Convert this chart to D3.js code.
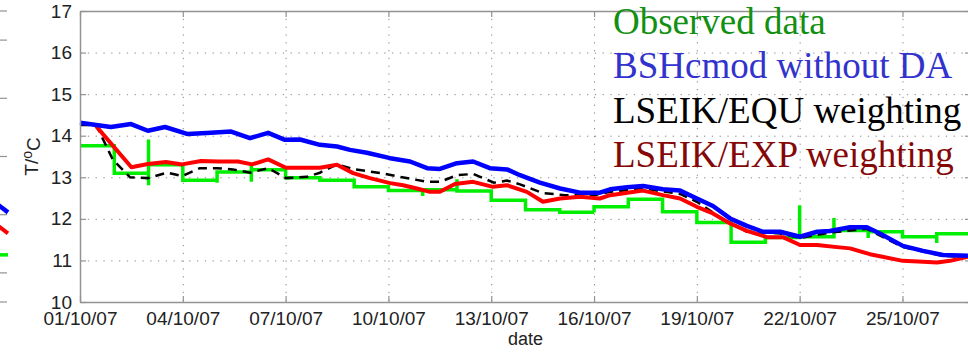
<!DOCTYPE html>
<html>
<head>
<meta charset="utf-8">
<script src="https://cdn.jsdelivr.net/npm/d3@7"></script>
<style>
  body { margin: 0; background: #fff; }
  svg { display: block; }
</style>
</head>
<body>
<svg id="chart" width="968" height="352"></svg>
<script>
// all series: [day of October 2007 (fractional), temperature in degC]
const observedDaily = [
  13.76, 13.10, 13.30, 12.93, 13.13, 13.18, 12.99, 12.93, 12.77, 12.68,
  12.70, 12.67, 12.45, 12.22, 12.16, 12.29, 12.47, 12.17, 11.91, 11.44,
  11.55, 11.57, 11.72, 11.69, 11.57, 11.64,
]; // value held from day i+1 to i+2
const observedSpikes = [
  [3, 13.91], [3, 12.81], [5, 12.87], [6, 13.34], [6, 12.89], [11, 12.55],
  [12, 12.95], [16, 12.15], [22, 12.33], [23, 12.02], [24, 11.54], [26, 11.42],
];
const bshcmod = [
  [1.00, 14.31], [1.90, 14.21], [2.49, 14.28], [2.98, 14.12], [3.48, 14.21],
  [4.15, 14.04], [4.82, 14.07], [5.41, 14.10], [5.96, 13.94], [6.49, 14.07],
  [6.98, 13.90], [7.42, 13.91], [8.00, 13.78], [8.50, 13.74], [8.88, 13.66],
  [9.37, 13.59], [10.05, 13.46], [10.63, 13.38], [11.13, 13.22], [11.50, 13.20],
  [12.00, 13.34], [12.47, 13.38], [12.96, 13.22], [13.46, 13.19], [13.84, 13.05],
  [14.42, 12.87], [15.01, 12.73], [15.59, 12.63], [16.17, 12.63], [16.47, 12.71],
  [16.96, 12.76], [17.43, 12.79], [18.01, 12.71], [18.51, 12.68], [19.00, 12.49],
  [19.47, 12.31], [19.97, 12.01], [20.46, 11.83], [20.93, 11.69], [21.43, 11.69],
  [22.01, 11.57], [22.51, 11.69], [22.88, 11.71], [23.47, 11.80], [23.96, 11.80],
  [24.34, 11.65], [25.01, 11.35], [25.60, 11.23], [26.18, 11.13], [26.91, 11.11],
];
const lseikEqu = [
  [1.00, 14.26], [1.47, 14.26], [1.96, 13.42], [2.46, 13.00], [2.98, 12.98],
  [3.54, 13.11], [3.98, 13.03], [4.50, 13.22], [5.00, 13.22], [5.46, 13.19],
  [5.96, 13.11], [6.49, 13.22], [7.01, 12.98], [7.62, 13.01], [8.00, 13.11],
  [8.50, 13.31], [9.02, 13.19], [9.78, 13.10], [10.40, 13.00], [11.15, 12.89],
  [11.50, 12.89], [12.00, 13.05], [12.47, 13.08], [13.08, 12.87], [13.46, 12.92],
  [13.84, 12.83], [14.51, 12.62], [15.15, 12.57], [15.97, 12.56], [16.47, 12.65],
  [17.43, 12.73], [18.51, 12.60], [19.00, 12.41], [19.76, 11.99], [20.46, 11.69],
  [21.43, 11.65], [22.01, 11.54], [22.88, 11.67], [23.96, 11.76], [25.01, 11.32],
  [26.18, 11.11], [26.91, 11.08],
];
const lseikExp = [
  [1.47, 14.23], [2.50, 13.24], [2.98, 13.32], [3.51, 13.37], [3.98, 13.31],
  [4.53, 13.39], [5.03, 13.38], [5.61, 13.38], [6.02, 13.31], [6.49, 13.43],
  [7.01, 13.23], [8.00, 13.23], [8.50, 13.30], [8.97, 13.10], [9.46, 12.98],
  [10.05, 12.86], [10.43, 12.81], [10.83, 12.73], [11.21, 12.65], [11.50, 12.65],
  [11.94, 12.84], [12.47, 12.89], [13.05, 12.77], [13.46, 12.81], [14.04, 12.65],
  [14.51, 12.41], [15.01, 12.49], [15.59, 12.53], [16.17, 12.49], [16.47, 12.57],
  [17.43, 12.68], [18.01, 12.57], [18.51, 12.49], [19.00, 12.29], [19.47, 12.13],
  [19.97, 11.89], [20.46, 11.71], [21.05, 11.56], [21.51, 11.56], [22.01, 11.37],
  [22.51, 11.37], [23.09, 11.32], [23.47, 11.29], [24.05, 11.15], [25.01, 10.99],
  [25.60, 10.97], [26.01, 10.95], [26.39, 10.99], [26.91, 11.09],
];
const yTicks = [10, 11, 12, 13, 14, 15, 16, 17];
const xTickDays = [1, 4, 7, 10, 13, 16, 19, 22, 25];
const legendLabels = [
  "Observed data", "BSHcmod without DA", "LSEIK/EQU weighting", "LSEIK/EXP weighting",
];

// the panel to the left, only its right edge is in the picture
const leftPanelTicks = [10, 11, 12, 13, 14];
const leftPanelBlue = [[26.6, 11.22], [27, 11.04]];
const leftPanelRed = [[26.6, 10.86], [27, 10.68]];
const leftPanelGreen = [[26.6, 10.31], [27, 10.31]];

const toDate = day => new Date(Date.UTC(2007, 9, 1) + (day - 1) * 864e5);

const svg = d3.select("#chart");
const margin = { top: 11, left: 80, bottom: 50, right: -3 };
const width = 968;
const height = 352;

const x = d3
  .scaleUtc()
  .domain([toDate(1), toDate(27)])
  .range([margin.left, width - margin.right]);
const y = d3
  .scaleLinear()
  .domain([10, 17])
  .range([height - margin.bottom, margin.top]);

const axisColor = "#939393";
const labelColor = "#222";
const tickFont = "'Liberation Sans', Arial, sans-serif";

// neighbour panel fragment
const xLeft = x.copy().range([8 - (x.range()[1] - x.range()[0]), 8]);
const yLeft = y.copy().domain([9.5, 14.5]);
const leftG = svg.append("g");
leftG
  .selectAll("line")
  .data(leftPanelTicks.concat(yLeft.domain()))
  .enter()
  .append("line")
  .attr("x1", 0)
  .attr("x2", 7)
  .attr("y1", d => yLeft(d))
  .attr("y2", d => yLeft(d))
  .attr("stroke", axisColor)
  .attr("stroke-width", 1.2);
const leftLine = d3.line().x(d => xLeft(toDate(d[0]))).y(d => yLeft(d[1]));
[
  [leftPanelGreen, "#00ee00", 3.5],
  [leftPanelRed, "#ff0000", 4],
  [leftPanelBlue, "#0000ff", 4.5],
].forEach(([data, color, w]) => {
  leftG
    .append("path")
    .attr("d", leftLine(data))
    .attr("fill", "none")
    .attr("stroke", color)
    .attr("stroke-width", w);
});

// grid
const grid = svg.append("g").attr("stroke", "#8a8a8a").attr("stroke-dasharray", "1.3,6.5");
grid
  .selectAll(".hgrid")
  .data(yTicks.slice(1, -1))
  .enter()
  .append("line")
  .attr("class", "hgrid")
  .attr("x1", x.range()[0])
  .attr("x2", x.range()[1])
  .attr("y1", d => y(d) + 0.5)
  .attr("y2", d => y(d) + 0.5);
grid
  .selectAll(".vgrid")
  .data(xTickDays.slice(1))
  .enter()
  .append("line")
  .attr("class", "vgrid")
  .attr("x1", d => x(toDate(d)) + 0.5)
  .attr("x2", d => x(toDate(d)) + 0.5)
  .attr("y1", y.range()[1])
  .attr("y2", y.range()[0]);

// series
const plot = svg.append("g");
const line = d3.line().x(d => x(toDate(d[0]))).y(d => y(d[1]));

const obsPoints = [];
observedDaily.forEach((v, i) => {
  const day = i + 1;
  observedSpikes.filter(s => s[0] === day).forEach(s => obsPoints.push(s));
  obsPoints.push([day, v], [day + 1, v]);
});

plot
  .append("path")
  .attr("d", line(obsPoints))
  .attr("fill", "none")
  .attr("stroke", "#00ee00")
  .attr("stroke-width", 3.5);
plot
  .append("path")
  .attr("d", line(lseikEqu))
  .attr("fill", "none")
  .attr("stroke", "#000")
  .attr("stroke-width", 2.5)
  .attr("stroke-dasharray", "9,6");
plot
  .append("path")
  .attr("d", line(lseikExp))
  .attr("fill", "none")
  .attr("stroke", "#ff0000")
  .attr("stroke-width", 4)
  .attr("stroke-linejoin", "round");
plot
  .append("path")
  .attr("d", line(bshcmod))
  .attr("fill", "none")
  .attr("stroke", "#0000ff")
  .attr("stroke-width", 4.5)
  .attr("stroke-linejoin", "round");

// axes, ticks pointing inwards
const styleAxis = g => {
  g.select(".domain").attr("stroke", axisColor).attr("stroke-width", 1.5);
  g.selectAll(".tick line").attr("stroke", axisColor).attr("stroke-width", 1.2);
  g.selectAll("text")
    .attr("fill", labelColor)
    .style("font-family", tickFont)
    .style("font-size", "19px");
};
const xTickVals = xTickDays.map(toDate);

svg
  .append("g")
  .attr("transform", `translate(0,${y.range()[0]})`)
  .call(
    d3
      .axisBottom(x)
      .tickValues(xTickVals)
      .tickSizeInner(-6)
      .tickSizeOuter(0)
      .tickPadding(10)
      .tickFormat(d3.utcFormat("%d/%m/%y")),
  )
  .call(styleAxis);
svg
  .append("g")
  .attr("transform", `translate(0,${y.range()[1]})`)
  .call(d3.axisTop(x).tickValues(xTickVals).tickSizeInner(-6).tickSizeOuter(0).tickFormat(""))
  .call(styleAxis);
svg
  .append("g")
  .attr("transform", `translate(${x.range()[0]},0)`)
  .call(
    d3
      .axisLeft(y)
      .tickValues(yTicks)
      .tickSizeInner(-6)
      .tickSizeOuter(0)
      .tickPadding(8)
      .tickFormat(d3.format("d")),
  )
  .call(styleAxis);
svg
  .append("g")
  .attr("transform", `translate(${x.range()[1]},0)`)
  .call(d3.axisRight(y).tickValues(yTicks).tickSizeInner(-6).tickSizeOuter(0).tickFormat(""))
  .call(styleAxis);

// axis titles
svg
  .append("text")
  .attr("x", (x.range()[0] + x.range()[1]) / 2)
  .attr("y", 345)
  .attr("text-anchor", "middle")
  .attr("fill", labelColor)
  .style("font-family", tickFont)
  .style("font-size", "18px")
  .text("date");

const yTitle = svg
  .append("text")
  .attr("transform", `translate(38,${(y.range()[0] + y.range()[1]) / 2}) rotate(-90)`)
  .attr("text-anchor", "middle")
  .attr("fill", labelColor)
  .style("font-family", tickFont)
  .style("font-size", "19px");
yTitle.append("tspan").text("T/");
yTitle.append("tspan").attr("dy", "-0.45em").style("font-size", "14px").text("o");
yTitle.append("tspan").attr("dy", "0.45em").text("C");

// legend, plain coloured text
const legendColors = ["#119011", "#3232cc", "#000000", "#850808"];
svg
  .append("g")
  .selectAll("text")
  .data(legendLabels)
  .enter()
  .append("text")
  .attr("x", 613)
  .attr("y", (d, i) => 34 + i * 44.3)
  .attr("fill", (d, i) => legendColors[i])
  .style("font-family", "'Liberation Serif', 'Times New Roman', serif")
  .style("font-size", "37px")
  .text(d => d);
</script>
</body>
</html>
